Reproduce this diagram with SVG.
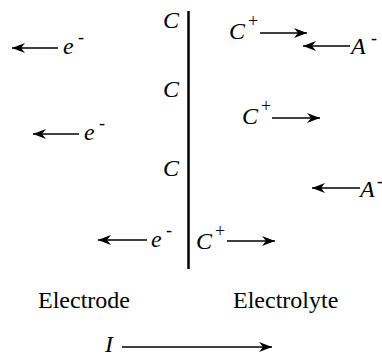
<svg xmlns="http://www.w3.org/2000/svg" width="382" height="356" viewBox="0 0 382 356">
<style>
.t{font-family:"Liberation Serif","Times New Roman",serif;font-size:24px;fill:#000}
.i{font-style:italic}
.s{font-family:"Liberation Serif","Times New Roman",serif;font-size:18px;fill:#000}
.a{stroke:#000;stroke-width:1.5;fill:none;marker-end:url(#ah)}
</style>
<defs>
<marker id="ah" markerUnits="userSpaceOnUse" markerWidth="16" markerHeight="12" viewBox="-14 -6 16 12" refX="0" refY="0" orient="auto">
<path d="M0,0 L-13,-5 L-9,0 L-13,5 Z" fill="#000"/>
</marker>
</defs>
<rect width="382" height="356" fill="#fff"/>
<g id="interface"><line x1="188.5" y1="11" x2="188.5" y2="269" stroke="#000" stroke-width="2.5"/></g>
<g id="electrode-labels">
<text class="t i" x="163" y="28">C</text>
<text class="t i" x="163" y="97">C</text>
<text class="t i" x="163" y="176">C</text>
</g>
<g id="e1"><text class="t i" x="63" y="54">e</text><text class="s" x="78" y="43">-</text></g>
<g id="e2"><text class="t i" x="84" y="140">e</text><text class="s" x="99" y="129">-</text></g>
<g id="e3"><text class="t i" x="151" y="247">e</text><text class="s" x="166" y="236">-</text></g>
<g id="cp1"><text class="t i" x="229" y="39">C</text><text class="s" x="248" y="27">+</text></g>
<g id="am1"><text class="t i" x="351" y="54">A</text><text class="s" x="371" y="44">-</text></g>
<g id="cp2"><text class="t i" x="242" y="124">C</text><text class="s" x="261" y="112">+</text></g>
<g id="am2"><text class="t i" x="360" y="197">A</text><text class="s" x="377" y="187">-</text></g>
<g id="cp3"><text class="t i" x="196" y="249">C</text><text class="s" x="215" y="237">+</text></g>
<g id="electrode"><text class="t" x="38" y="308">Electrode</text></g>
<g id="electrolyte"><text class="t" x="233" y="308">Electrolyte</text></g>
<g id="current"><text class="t i" x="105" y="352">I</text></g>
<g id="connectors">
<line class="a" x1="58" y1="48" x2="12" y2="48"/>
<line class="a" x1="79" y1="134" x2="33" y2="134"/>
<line class="a" x1="147" y1="240" x2="98" y2="240"/>
<line class="a" x1="260" y1="33" x2="307" y2="33"/>
<line class="a" x1="350" y1="46" x2="303" y2="46"/>
<line class="a" x1="272" y1="118" x2="320" y2="118"/>
<line class="a" x1="360" y1="188" x2="312" y2="188"/>
<line class="a" x1="227" y1="241" x2="275" y2="241"/>
<line class="a" x1="122" y1="347" x2="272" y2="347"/>
</g>
</svg>
